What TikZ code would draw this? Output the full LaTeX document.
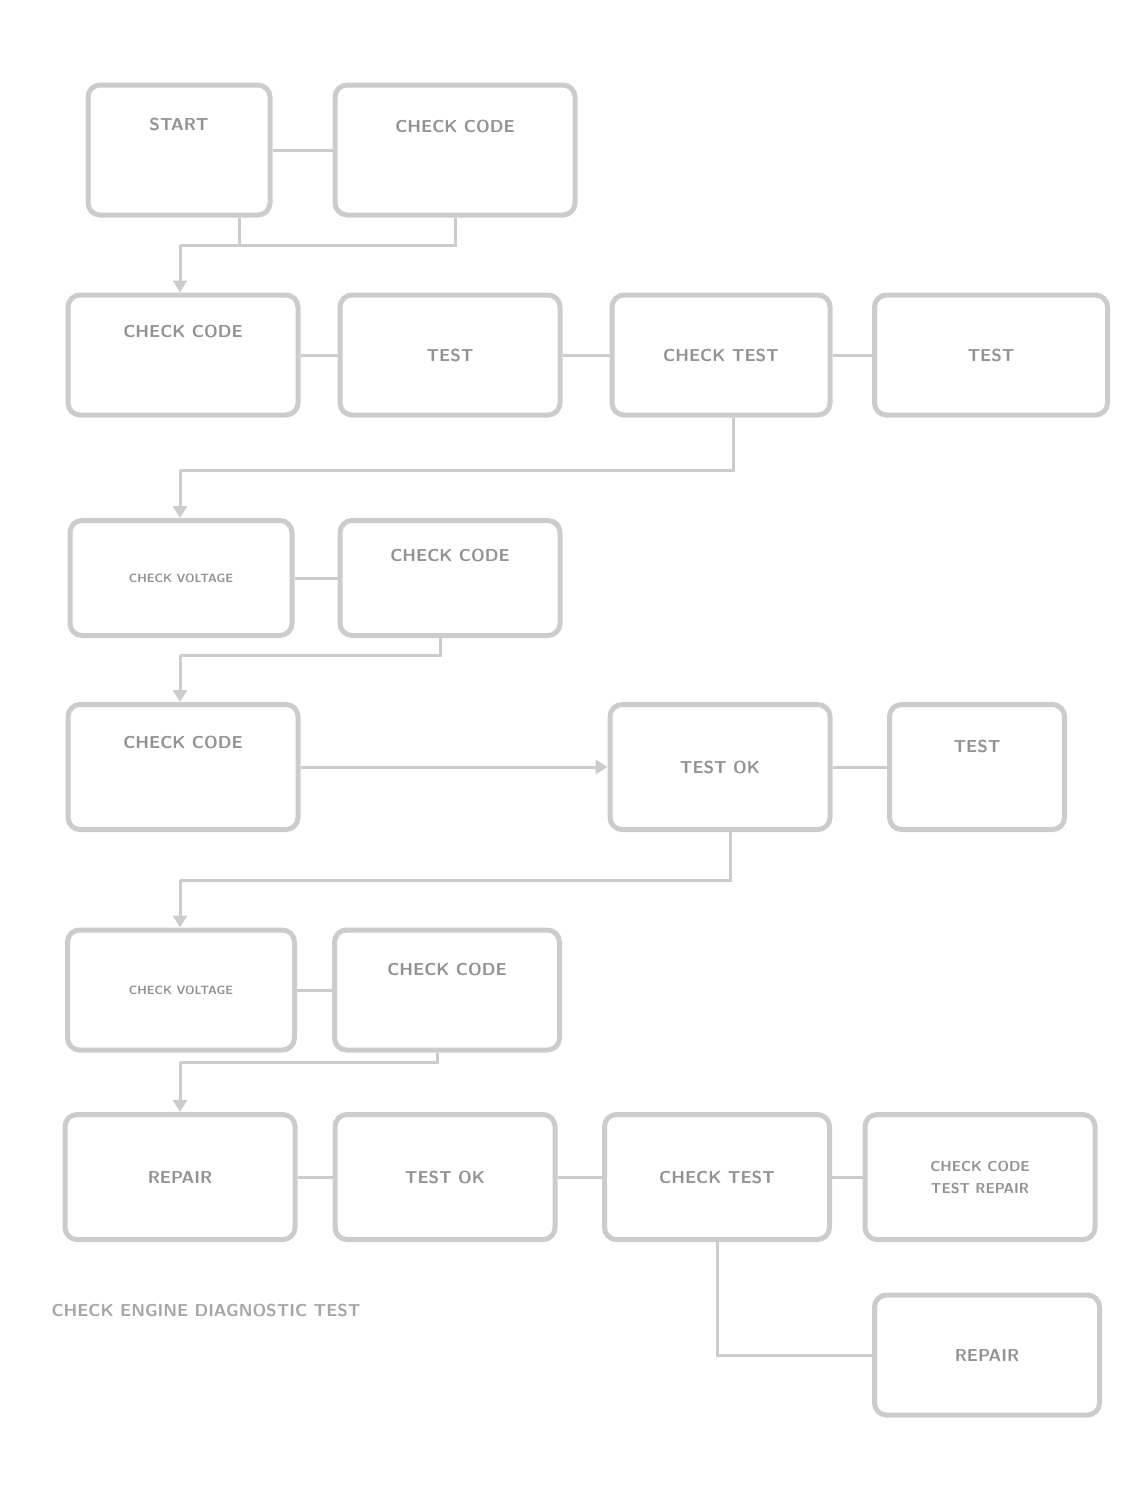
\documentclass[tikz,border=0pt]{standalone}
\usetikzlibrary{arrows.meta}
\begin{document}
\begin{tikzpicture}[x=1pt,y=-1pt,
  box/.style={draw=gray!40, line width=5pt, rounded corners=12pt, fill=white,
    inner sep=0pt, text=gray!85, font=\sffamily\bfseries\LARGE, align=center},
  conn/.style={draw=gray!40, line width=3pt},
  arr/.style={conn, -{Triangle[length=12pt,width=14pt]}}]
\useasboundingbox (0,0) rectangle (1142,1489);
% row 1
\node[box, minimum width=182pt, minimum height=130pt] (a) at (179,150) {START\\[30pt]~};
\node[box, minimum width=240pt, minimum height=130pt] (b) at (455,150) {CHECK CODE\\[26pt]~};
% row 2
\node[box, minimum width=230pt, minimum height=120pt] (r2a) at (183,355) {CHECK CODE\\[26pt]~};
\node[box, minimum width=220pt, minimum height=120pt] (r2b) at (450,355) {TEST};
\node[box, minimum width=218pt, minimum height=120pt] (r2c) at (721,355) {CHECK TEST};
\node[box, minimum width=233pt, minimum height=120pt] (r2d) at (991,355) {TEST};
% row 3
\node[box, minimum width=222pt, minimum height=115pt] (r3a) at (181,578) {\large CHECK VOLTAGE};
\node[box, minimum width=220pt, minimum height=115pt] (r3b) at (450,578) {CHECK CODE\\[24pt]~};
% row 4
\node[box, minimum width=230pt, minimum height=125pt] (r4a) at (183,767) {CHECK CODE\\[28pt]~};
\node[box, minimum width=220pt, minimum height=125pt] (r4b) at (720,767) {TEST OK};
\node[box, minimum width=175pt, minimum height=125pt] (r4c) at (977,767) {TEST\\[20pt]~};
% row 5
\node[box, minimum width=227pt, minimum height=120pt] (r5a) at (181,990) {\large CHECK VOLTAGE};
\node[box, minimum width=225pt, minimum height=120pt] (r5b) at (447,990) {CHECK CODE\\[20pt]~};
% row 6
\node[box, minimum width=230pt, minimum height=125pt] (r6a) at (180,1177) {REPAIR};
\node[box, minimum width=220pt, minimum height=125pt] (r6b) at (445,1177) {TEST OK};
\node[box, minimum width=225pt, minimum height=125pt] (r6c) at (717,1177) {CHECK TEST};
\node[box, minimum width=230pt, minimum height=125pt] (r6d) at (980,1177) {\Large CHECK CODE\\\Large TEST REPAIR};
% row 7
\node[box, minimum width=225pt, minimum height=120pt] (r7) at (987,1355) {REPAIR};
% caption
\node[text=gray!70, font=\sffamily\bfseries\LARGE, anchor=west] (cap) at (48,1310) {CHECK ENGINE DIAGNOSTIC TEST};
% connectors
\coordinate (j1) at (180,245);
\draw[conn] (a) -- (b);
\draw[conn] (b.south) |- (j1);
\draw[conn] ([xshift=60pt]a.south) -- ([xshift=60pt]a.south |- j1);
\draw[arr] (j1) -- (r2a.north -| j1);
\draw[conn] (r2a) -- (r2b);
\draw[conn] (r2b) -- (r2c);
\draw[conn] (r2c) -- (r2d);
\coordinate (j2) at (180,470);
\draw[conn] ([xshift=12pt]r2c.south) |- (j2);
\draw[arr] (j2) -- (r3a.north -| j2);
\draw[conn] (r3a) -- (r3b);
\coordinate (j3) at (180,655);
\draw[conn] ([xshift=-10pt]r3b.south) |- (j3);
\draw[arr] (j3) -- (r4a.north -| j3);
\draw[arr] (r4a) -- (r4b);
\draw[conn] (r4b) -- (r4c);
\coordinate (j4) at (180,880);
\draw[conn] ([xshift=10pt]r4b.south) |- (j4);
\draw[arr] (j4) -- (r5a.north -| j4);
\draw[conn] (r5a) -- (r5b);
\coordinate (j5) at (180,1062);
\draw[conn] ([xshift=-10pt]r5b.south) |- (j5);
\draw[arr] (j5) -- (r6a.north -| j5);
\draw[conn] (r6a) -- (r6b);
\draw[conn] (r6b) -- (r6c);
\draw[conn] (r6c) -- (r6d);
\draw[conn] (r6c.south) |- (r7.west);
\end{tikzpicture}
\end{document}
